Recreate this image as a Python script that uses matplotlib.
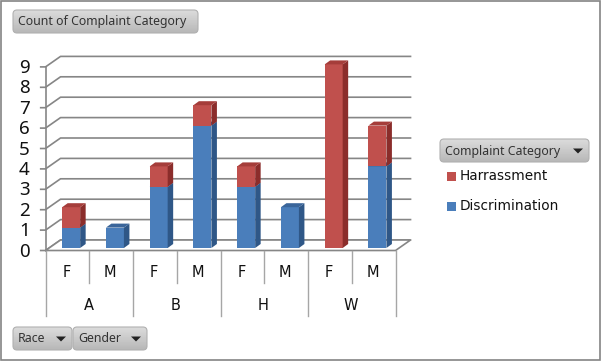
"""
Pivot chart: complaint counts by race and gender, stacked 3D-look columns.
"""
import numpy as np
import matplotlib
matplotlib.use("Agg")
import matplotlib.pyplot as plt
from matplotlib.patches import Polygon, Rectangle, FancyBboxPatch

race = ["A", "B", "H", "W"]
gender = ["F", "M", "F", "M", "F", "M", "F", "M"]
discrimination = [1, 1, 3, 6, 3, 2, 0, 4]
harrassment = [1, 0, 1, 1, 1, 0, 9, 2]
y_ticks = [0, 1, 2, 3, 4, 5, 6, 7, 8, 9]

RED = ("#C0504D", "#8B2D2B", "#A53D3A")
BLUE = ("#4A7EBB", "#2F5787", "#3A659A")
GREY = "#868686"

W, H = 601, 361
X0, XS = 67.4, 43.75    # pixel of first category, pixels per category
Y0, YS = 250.5, 20.4    # pixel of value 0, pixels per unit


def rounded_button(pax, x, y, w, h, text, arrow=False):
    box = FancyBboxPatch((x + 3, y + 3), w - 6, h - 6, boxstyle="round,pad=3,rounding_size=4",
                         fc="none", ec="#B0B0B0", lw=0.8, zorder=5)
    pax.add_patch(box)
    grad = np.linspace(0.86, 0.72, 32).reshape(-1, 1)
    im = pax.imshow(grad, extent=[x, x + w, y + h, y], cmap="gray", vmin=0, vmax=1,
                    aspect="auto", zorder=4)
    im.set_clip_path(box)
    pax.text(x + 5, y + h / 2 + 0.5, text, fontsize=8.9, family="Noto Sans", color="#333333",
             va="center", ha="left", zorder=6)
    if arrow:
        ax_ = x + w - 11
        cy = y + h / 2 - 2
        pax.add_patch(Polygon([(ax_ - 5, cy), (ax_ + 5, cy), (ax_, cy + 5)], fc="#222222", ec="none", zorder=6))


fig = plt.figure(figsize=(W / 100, H / 100), dpi=100)

# data axes fill the figure, so that category/value map onto the reference pixels
ax = fig.add_axes([0, 0, 1, 1])
ax.set_xlim((0 - X0) / XS, (W - X0) / XS)
ax.set_ylim((Y0 - H) / YS, Y0 / YS)
ax.axis("off")

# depth of the chart box and of each bar, in data units
box_dx, box_dy = 15 / XS, 10.5 / YS
bar_dx, bar_dy = 5.5 / XS, 4 / YS
left, right = -0.5, 7.5
base = 2.5 / YS
offset = 4.2 / XS
width = 18 / XS

for v in y_ticks:
    ax.plot([left - 0.11, left, left + box_dx, right + box_dx],
            [v, v, v + box_dy, v + box_dy], color=GREY, lw=1.2, zorder=1)
    ax.text(left - 0.36, v - 0.05, str(v), fontsize=13.5, family="Noto Sans", ha="right", va="center",
            color="#111111")

ax.plot([left, left], [0, y_ticks[-1]], color=GREY, lw=1.2, zorder=1)
ax.add_patch(Polygon([(left, 0), (left + box_dx, box_dy), (right + box_dx, box_dy), (right, 0)],
                     fc="white", ec=GREY, lw=1.2, zorder=1))

# stacked columns
for i in range(len(gender)):
    x = i + offset - 0.01
    bottom = base
    for value, cols in ((discrimination[i], BLUE), (harrassment[i], RED)):
        if value == 0:
            continue
        top = bottom + value
        xr = x + width / 2
        ax.bar(x, value, width=width, bottom=bottom, color=cols[0], lw=0, zorder=3)
        ax.add_patch(Polygon([(xr, bottom), (xr + bar_dx, bottom + bar_dy),
                              (xr + bar_dx, top + bar_dy), (xr, top)], fc=cols[1], ec="none", zorder=3))
        ax.add_patch(Polygon([(xr - width, top), (xr, top), (xr + bar_dx, top + bar_dy),
                              (xr - width + bar_dx, top + bar_dy)], fc=cols[2], ec="none", zorder=3))
        bottom = top

# two-level category axis
sep_short = -32.5 / YS
sep_long = -65 / YS
for i in range(len(gender) + 1):
    ax.plot([left + i, left + i], [0, sep_long if i % 2 == 0 else sep_short],
            color="#A6A6A6", lw=1.0, zorder=2)
for i, g in enumerate(gender):
    ax.text(i - 0.02, -22 / YS, g, fontsize=10.5, ha="center", va="center", color="#111111")
for i, r in enumerate(race):
    ax.text(2 * i + 0.48, -55 / YS, r, fontsize=10.5, ha="center", va="center", color="#111111")

# buttons, legend and frame are chart furniture, placed in pixels
pax = fig.add_axes([0, 0, 1, 1], facecolor="none")
pax.set_xlim(0, W)
pax.set_ylim(H, 0)
pax.axis("off")
pax.add_patch(Rectangle((0.5, 0.5), W - 1.5, H - 1.5, fc="none", ec="#848484", lw=1.2))

rounded_button(pax, 13, 10, 185, 23, "Count of Complaint Category")
rounded_button(pax, 13, 327, 59, 23, "Race", arrow=True)
rounded_button(pax, 73, 327, 74, 23, "Gender", arrow=True)
rounded_button(pax, 440, 139, 149, 23, "Complaint Category", arrow=True)

pax.add_patch(Rectangle((447, 172), 9, 9, fc=RED[0], ec="none"))
pax.add_patch(Rectangle((447, 202), 9, 9, fc=BLUE[0], ec="none"))
pax.text(460, 176.5, "Harrassment", fontsize=9.8, va="center", color="#111111")
pax.text(460, 206.5, "Discrimination", fontsize=9.8, va="center", color="#111111")

fig.savefig("out.png", dpi=100)
